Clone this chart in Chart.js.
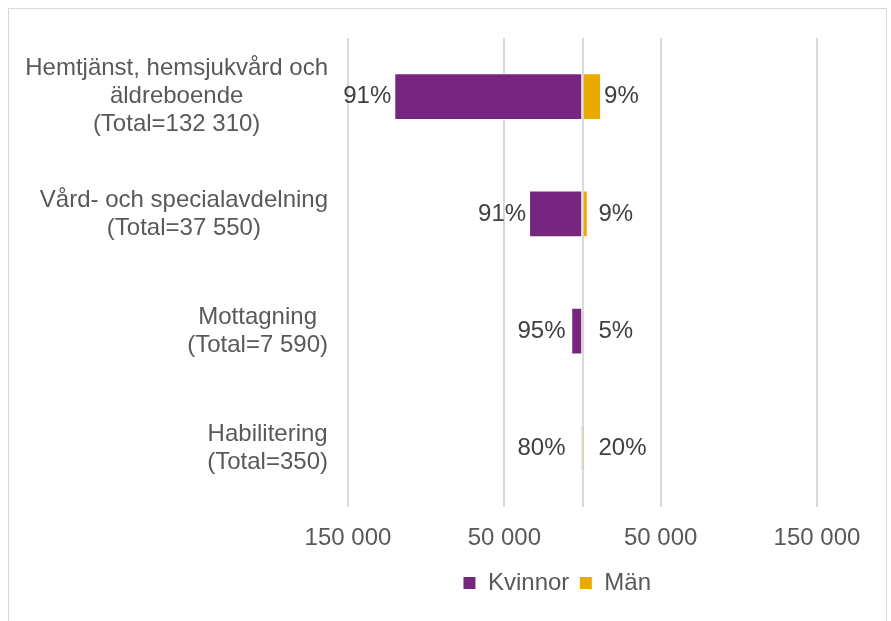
<!DOCTYPE html>
<html>
<head>
<meta charset="utf-8">
<script src="https://cdn.jsdelivr.net/npm/chart.js@4/dist/chart.umd.min.js"></script>
<style>
  html, body { margin: 0; padding: 0; background: #fff; overflow: hidden; }
  #wrap { position: relative; width: 891px; height: 621px; }
  #frame { position: absolute; left: 8px; top: 8px; width: 879px; height: 640px; border: 1px solid #d9d9d9; box-sizing: border-box; }
  canvas { position: absolute; left: 0; top: 0; }
</style>
</head>
<body>
<div id="wrap">
  <div id="frame"></div>
  <canvas id="chart" width="891" height="621"></canvas>
</div>
<script>
// categories (multi-line labels)
const categories = [
  ['Hemtjänst, hemsjukvård och', 'äldreboende', '(Total=132 310)'],
  ['Vård- och specialavdelning', '(Total=37 550)'],
  ['Mottagning', '(Total=7 590)'],
  ['Habilitering', '(Total=350)']
];
// counts per sex
const women = [120400, 34170, 7210, 280];
const men = [11910, 3380, 380, 70];
// shown shares
const womenPct = ['91%', '91%', '95%', '80%'];
const menPct = ['9%', '9%', '5%', '20%'];
// x axis ticks
const xTicks = [-150000, -50000, 0, 50000, 150000];

const PURPLE = '#76267f';
const YELLOW = '#eaab00';
const FONT = '"Liberation Sans", Arial, sans-serif';
const FS = 24;

// draws the centered multi-line category labels, right aligned to x=328
const catLabels = {
  id: 'catLabels',
  afterDraw(chart) {
    const ctx = chart.ctx;
    const y = chart.scales.y;
    const right = chart.chartArea.left - 20;
    const lh = 28;
    ctx.save();
    ctx.font = FS + 'px ' + FONT;
    ctx.fillStyle = '#595959';
    ctx.textAlign = 'center';
    ctx.textBaseline = 'middle';
    categories.forEach((lines, i) => {
      const cy = y.getPixelForValue(i);
      const w = Math.max(...lines.map(l => ctx.measureText(l).width));
      const cx = right - w / 2;
      lines.forEach((l, j) => {
        ctx.fillText(l, cx, cy + (j - (lines.length - 1) / 2) * lh);
      });
    });
    ctx.restore();
  }
};

// percentage labels beside the bars
const pctLabels = {
  id: 'pctLabels',
  afterDatasetsDraw(chart) {
    const ctx = chart.ctx;
    const zero = chart.scales.x.getPixelForValue(0);
    ctx.save();
    ctx.font = FS + 'px ' + FONT;
    ctx.fillStyle = '#404040';
    ctx.textBaseline = 'middle';
    chart.getDatasetMeta(0).data.forEach((bar, i) => {
      ctx.textAlign = 'right';
      ctx.fillText(womenPct[i], Math.min(bar.x - 3, zero - 17), bar.y);
    });
    chart.getDatasetMeta(1).data.forEach((bar, i) => {
      ctx.textAlign = 'left';
      ctx.fillText(menPct[i], Math.max(bar.x + 3, zero + 16), bar.y);
    });
    ctx.restore();
  }
};

new Chart(document.getElementById('chart'), {
  type: 'bar',
  data: {
    labels: categories.map(c => c.join(' ')),
    datasets: [
      {
        label: 'Kvinnor',
        data: women.map(v => -v),
        backgroundColor: PURPLE,
        borderColor: '#ffffff',
        borderWidth: 1
      },
      {
        label: 'Män',
        data: men,
        backgroundColor: YELLOW,
        borderColor: '#ffffff',
        borderWidth: 1
      }
    ]
  },
  options: {
    indexAxis: 'y',
    responsive: false,
    animation: false,
    devicePixelRatio: 1,
    categoryPercentage: 1,
    barPercentage: 0.4,
    // left padding chosen so the legend centres under the plot like the original
    layout: { padding: { left: 297, right: 74, top: 38, bottom: 16 } },
    scales: {
      x: {
        stacked: true,
        min: -150000,
        max: 150000,
        afterBuildTicks: s => { s.ticks = xTicks.map(v => ({ value: v })); },
        afterFit: s => { s.height = 54; },
        grid: { color: '#d9d9d9', lineWidth: 2, drawTicks: false },
        border: { display: false },
        ticks: {
          padding: 17,
          color: '#595959',
          font: { family: FONT, size: FS },
          callback: v => v === 0 ? '' : Math.abs(v).toLocaleString('sv-SE').replace(/\u00a0/g, ' ')
        }
      },
      y: {
        stacked: true,
        afterFit: s => { s.width = 51; },
        grid: { display: false },
        border: { display: false },
        ticks: { display: false }
      }
    },
    plugins: {
      legend: {
        position: 'bottom',
        labels: {
          color: '#595959',
          font: { family: FONT, size: FS },
          boxWidth: 13,
          boxHeight: 13,
          padding: 10
        }
      },
      tooltip: { enabled: false }
    }
  },
  plugins: [catLabels, pctLabels]
});
</script>
</body>
</html>
